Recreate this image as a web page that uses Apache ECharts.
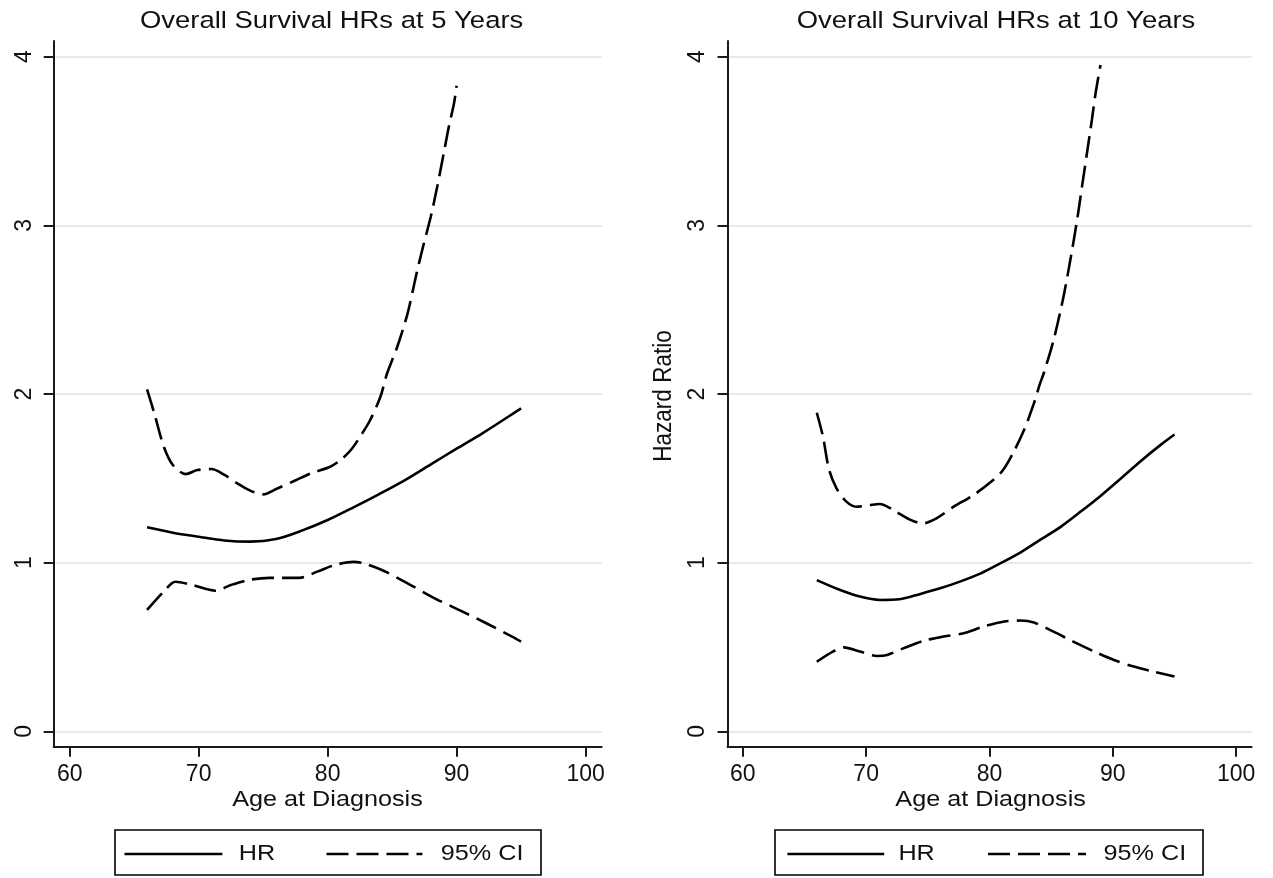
<!DOCTYPE html>
<html>
<head>
<meta charset="utf-8">
<script src="https://cdn.jsdelivr.net/npm/echarts@6/dist/echarts.min.js"></script>
<style>
html,body{margin:0;padding:0;background:#fff;}
#chart{width:1273px;height:878px;}
</style>
</head>
<body>
<div id="chart"></div>
<script>
// ---- Data ----
const xTicks = [60, 70, 80, 90, 100];
const yTicks = [0, 1, 2, 3, 4];

// 5-year panel
const hr5Age = [66, 68, 70, 72, 74, 76, 78, 80, 82, 84, 86, 88, 90, 92, 94, 95];
const hr5 = [1.21, 1.178, 1.154, 1.132, 1.125, 1.14, 1.19, 1.253, 1.328, 1.407, 1.49, 1.583, 1.676, 1.767, 1.865, 1.915];
const lo5Age = [66, 67.3, 68.2, 69.5, 71.3, 72.5, 73.9, 75.5, 77.8, 79.2, 80.5, 82.0, 82.8, 84.2, 86.2, 88.3, 90.3, 92.3, 94.3, 95];
const lo5 = [0.72, 0.83, 0.887, 0.868, 0.834, 0.868, 0.898, 0.91, 0.91, 0.947, 0.985, 1.005, 0.996, 0.957, 0.878, 0.789, 0.716, 0.641, 0.562, 0.532];
const up5Age = [66, 66.6, 67.3, 68.0, 69.0, 69.9, 71.0, 72.0, 73.0, 74.0, 75.0, 76.1, 77.4, 78.7, 80.2, 81.0, 81.8, 82.6, 83.3, 84.1, 84.6, 85.4, 86.2, 86.9, 87.4, 88.0, 88.5, 89.0, 89.4, 89.8, 90.0];
const up5 = [2.027, 1.875, 1.687, 1.579, 1.525, 1.549, 1.555, 1.52, 1.47, 1.427, 1.405, 1.44, 1.484, 1.53, 1.569, 1.609, 1.668, 1.757, 1.846, 1.985, 2.12, 2.28, 2.478, 2.716, 2.874, 3.052, 3.23, 3.427, 3.585, 3.724, 3.827];

// 10-year panel
const hr10Age = [66, 67.9, 69.5, 71.1, 72.7, 74.4, 76.0, 77.6, 79.3, 80.9, 82.5, 84.1, 85.8, 87.4, 89.0, 90.6, 92.3, 93.9, 95];
const hr10 = [0.897, 0.838, 0.799, 0.779, 0.783, 0.815, 0.848, 0.888, 0.937, 0.997, 1.06, 1.135, 1.214, 1.303, 1.396, 1.496, 1.605, 1.70, 1.76];
const lo10Age = [66, 67.3, 68.2, 69.5, 70.9, 71.7, 73.0, 74.7, 76.3, 77.9, 79.5, 81.2, 82.5, 83.6, 85.2, 86.8, 88.5, 90.1, 91.7, 93.3, 95];
const lo10 = [0.413, 0.473, 0.498, 0.473, 0.447, 0.453, 0.492, 0.538, 0.562, 0.582, 0.621, 0.651, 0.657, 0.645, 0.591, 0.532, 0.473, 0.423, 0.384, 0.354, 0.325];
const up10Age = [66, 66.5, 67.0, 67.6, 68.4, 69.2, 70.3, 71.1, 72.2, 73.5, 74.6, 75.7, 77.1, 78.7, 80.3, 81.1, 81.9, 82.8, 83.6, 84.1, 84.4, 85.2, 86.0, 86.6, 87.1, 87.5, 87.9, 88.3, 88.6, 89.0];
const up10 = [1.889, 1.747, 1.55, 1.441, 1.362, 1.332, 1.342, 1.348, 1.312, 1.257, 1.233, 1.263, 1.332, 1.401, 1.49, 1.549, 1.648, 1.786, 1.944, 2.063, 2.123, 2.32, 2.577, 2.814, 3.03, 3.229, 3.427, 3.624, 3.782, 3.95];

const titles = ['Overall Survival HRs at 5 Years', 'Overall Survival HRs at 10 Years'];
const xName = 'Age at Diagnosis';
const yName = 'Hazard Ratio';
const legendNames = ['HR', '95% CI'];

// ---- Chart ----
const FONT = '"Liberation Sans", Arial, sans-serif';
const pairs = (xs, ys) => xs.map((x, i) => [x, ys[i]]);
const chart = echarts.init(document.getElementById('chart'), null, {renderer: 'canvas'});

const grids = [
  {left: 53.7, top: 41, width: 548, height: 705.7},
  {left: 727.5, top: 41, width: 524.1, height: 705.7}
];

function xAxisFor(i) {
  return {
    type: 'value', gridIndex: i, min: 58.76, max: 101.25,
    axisLine: {show: true, onZero: false, lineStyle: {color: '#1a1a1a', width: 2}},
    axisTick: {show: true, length: 10, customValues: xTicks, lineStyle: {color: '#1a1a1a', width: 2}},
    axisLabel: {customValues: xTicks, margin: 16, fontSize: 23, color: '#111', fontFamily: FONT},
    splitLine: {show: false}
  };
}
function yAxisFor(i) {
  return {
    type: 'value', gridIndex: i, min: -0.0907, max: 4.0925,
    axisLine: {show: true, onZero: false, lineStyle: {color: '#1a1a1a', width: 2}},
    axisTick: {show: true, length: 10, customValues: yTicks, lineStyle: {color: '#1a1a1a', width: 2}},
    axisLabel: {customValues: yTicks, rotate: 90, margin: 18, fontSize: 23, color: '#111', fontFamily: FONT},
    splitLine: {show: true, lineStyle: {color: '#e2ebee', width: 2}}
  };
}

const solid = {color: '#000', width: 2.6, type: 'solid'};
const dashed = {color: '#000', width: 2.6, type: [22, 8]};
function lineSeries(name, i, data, style) {
  return {
    name: name, type: 'line', xAxisIndex: i, yAxisIndex: i,
    data: data, showSymbol: false, symbol: 'none', smooth: 0.3,
    lineStyle: style, silent: true, animation: false, z: 3
  };
}

const series = [
  lineSeries(legendNames[0], 0, pairs(hr5Age, hr5), solid),
  lineSeries(legendNames[1], 0, pairs(up5Age, up5), dashed),
  lineSeries(legendNames[1], 0, pairs(lo5Age, lo5), dashed),
  lineSeries(legendNames[0], 1, pairs(hr10Age, hr10), solid),
  lineSeries(legendNames[1], 1, pairs(up10Age, up10), dashed),
  lineSeries(legendNames[1], 1, pairs(lo10Age, lo10), dashed)
];

function txt(text, x, y, size, opts) {
  opts = opts || {};
  return {
    type: 'text', x: x, y: y, rotation: opts.rotation || 0,
    scaleX: opts.scaleX || 1.12, scaleY: opts.scaleY || 1,
    style: {
      text: text, x: 0, y: 0, fill: '#111',
      font: size + 'px ' + FONT,
      align: opts.align || 'center', verticalAlign: 'middle'
    }
  };
}

function legendGroup(box, solidX, hrX, dashX, ciX) {
  const ly = 854;
  return [
    {type: 'rect', shape: {x: box[0], y: 830, width: box[1], height: 45},
     style: {fill: 'none', stroke: '#000', lineWidth: 1.6}},
    {type: 'line', shape: {x1: solidX[0], y1: ly, x2: solidX[1], y2: ly},
     style: {stroke: '#000', lineWidth: 2.6}},
    txt(legendNames[0], hrX, ly, 22.5, {align: 'left'}),
    {type: 'line', shape: {x1: dashX[0], y1: ly, x2: dashX[1], y2: ly},
     style: {stroke: '#000', lineWidth: 2.6, lineDash: [22, 8]}},
    txt(legendNames[1], ciX, ly, 22.5, {align: 'left'})
  ];
}

const graphics = [
  txt(titles[0], 331.6, 21, 24.5),
  txt(titles[1], 996, 21, 24.5),
  txt(xName, 327.5, 800, 22.5),
  txt(xName, 990.6, 800, 22.5),
  txt(yName, 664, 396, 22.5, {rotation: Math.PI / 2, scaleX: 1, scaleY: 1.12})
].concat(
  legendGroup([115, 426], [124.5, 222.4], 238.8, [326.5, 422.4], 440.8),
  legendGroup([775, 428], [787.4, 884.2], 898.4, [988, 1086], 1103.5)
);

chart.setOption({
  backgroundColor: '#fff',
  animation: false,
  grid: grids,
  xAxis: [xAxisFor(0), xAxisFor(1)],
  yAxis: [yAxisFor(0), yAxisFor(1)],
  series: series,
  graphic: {elements: graphics}
});
</script>
</body>
</html>
